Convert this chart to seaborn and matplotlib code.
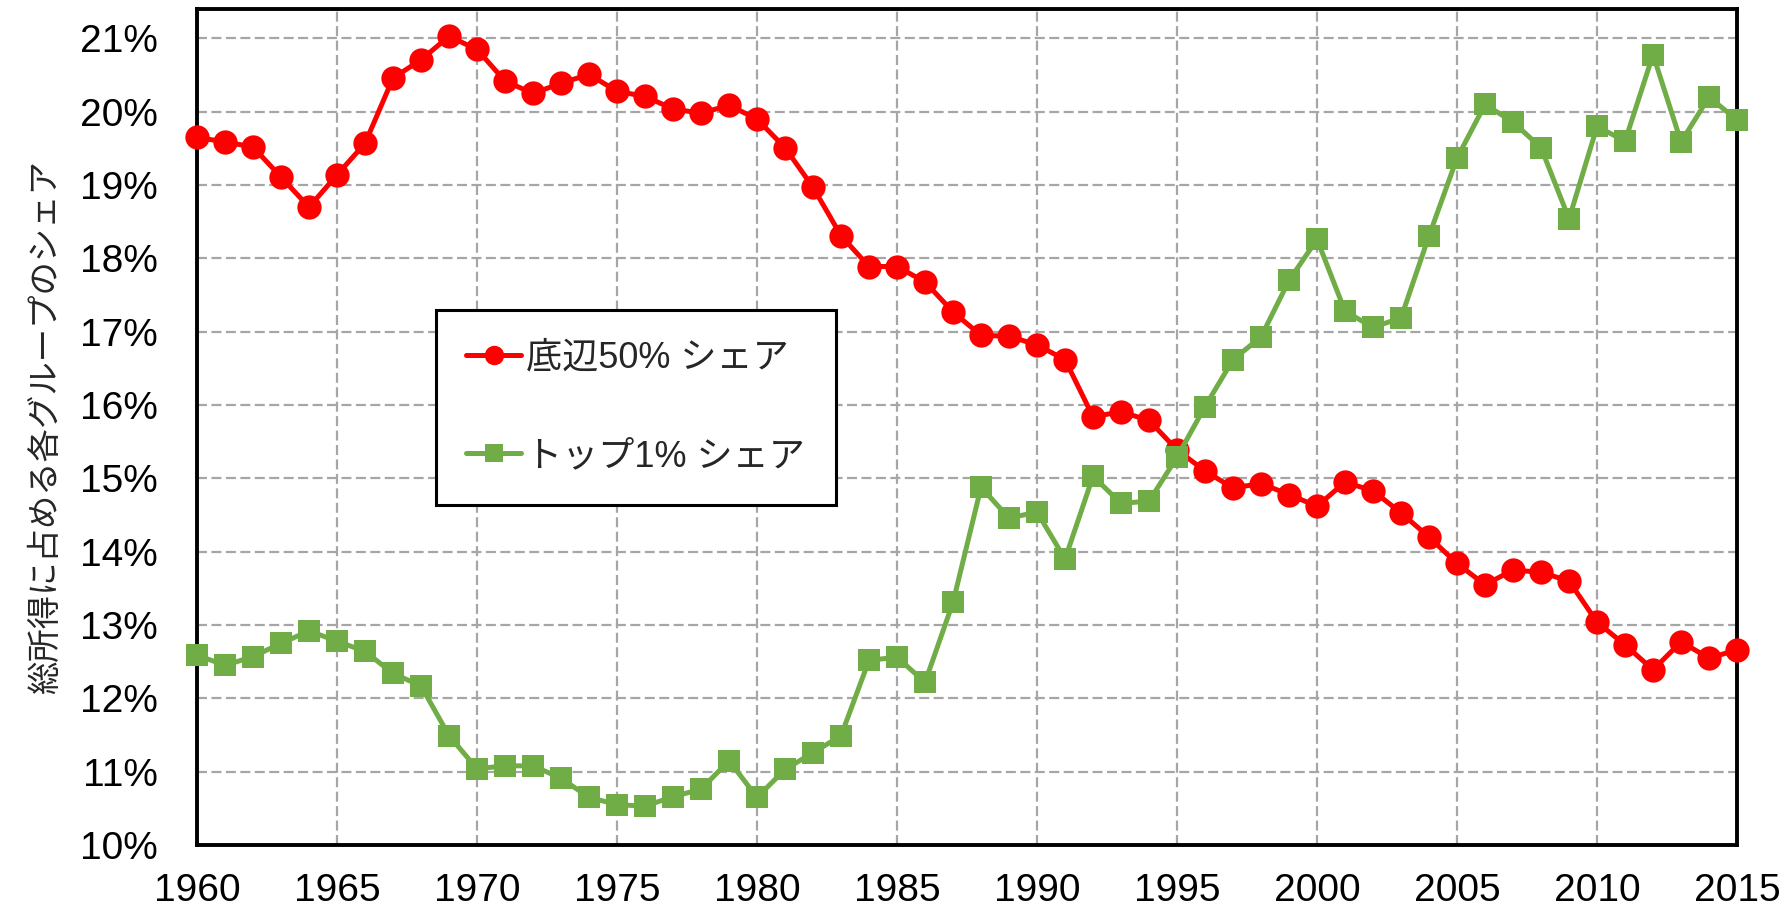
import matplotlib

matplotlib.use("Agg")

import matplotlib.pyplot as plt
import pandas as pd
import seaborn as sns
from matplotlib.ticker import FuncFormatter, MultipleLocator


YEARS = list(range(1960, 2016))
BOTTOM_50 = [
    19.65, 19.59, 19.52, 19.11, 18.70, 19.14, 19.57, 20.46, 20.71, 21.03,
    20.85, 20.42, 20.25, 20.39, 20.51, 20.28, 20.21, 20.04, 19.98, 20.09,
    19.90, 19.51, 18.97, 18.31, 17.89, 17.89, 17.68, 17.27, 16.95, 16.94,
    16.82, 16.62, 15.84, 15.91, 15.79, 15.39, 15.10, 14.87, 14.93, 14.78,
    14.62, 14.95, 14.83, 14.53, 14.20, 13.84, 13.55, 13.75, 13.72, 13.60,
    13.04, 12.73, 12.39, 12.77, 12.55, 12.66,
]
TOP_1 = [
    12.59, 12.45, 12.57, 12.75, 12.92, 12.78, 12.64, 12.34, 12.17, 11.49,
    11.04, 11.08, 11.08, 10.91, 10.65, 10.55, 10.53, 10.66, 10.76, 11.15,
    10.65, 11.03, 11.26, 11.49, 12.52, 12.56, 12.22, 13.31, 14.88, 14.46,
    14.54, 13.90, 15.03, 14.66, 14.69, 15.29, 15.98, 16.62, 16.93, 17.70,
    18.26, 17.28, 17.06, 17.19, 18.31, 19.37, 20.10, 19.86, 19.51, 18.54,
    19.80, 19.60, 20.78, 19.59, 20.20, 19.89,
]
LABEL_BOTTOM = "底辺50% シェア"
LABEL_TOP = "トップ1% シェア"
Y_LABEL = "総所得に占める各グループのシェア"

RED = "#ff0000"
GREEN = "#70ad47"


def main():
    sns.set_theme(style="white")
    plt.rcParams["font.family"] = ["Liberation Sans", "Noto Sans CJK JP", "DejaVu Sans"]

    df = pd.DataFrame({"year": YEARS, "bottom": BOTTOM_50, "top": TOP_1})

    fig, ax = plt.subplots(figsize=(17.88, 9.16), dpi=100)
    fig.subplots_adjust(left=0.1102, right=0.9715, bottom=0.0775, top=0.990)

    sns.lineplot(
        data=df, x="year", y="bottom", ax=ax, color=RED, linewidth=3.6,
        marker="o", markersize=17.5, markeredgewidth=0, label=LABEL_BOTTOM,
        clip_on=False, zorder=3,
    )
    sns.lineplot(
        data=df, x="year", y="top", ax=ax, color=GREEN, linewidth=3.6,
        marker="s", markersize=15.5, markeredgewidth=0, label=LABEL_TOP,
        clip_on=False, zorder=4,
    )

    ax.set_xlim(1960, 2015)
    ax.set_ylim(10, 21.4)
    ax.xaxis.set_major_locator(MultipleLocator(5))
    ax.yaxis.set_major_locator(MultipleLocator(1))
    ax.yaxis.set_major_formatter(FuncFormatter(lambda v, _: f"{v:.0f}%"))

    ax.grid(True, color="#a6a6a6", linestyle=(0, (4.5, 2)), linewidth=1.6)
    ax.set_axisbelow(True)
    for spine in ax.spines.values():
        spine.set_color("black")
        spine.set_linewidth(2.8)

    ax.tick_params(axis="x", length=0, pad=20, labelsize=28, colors="black")
    ax.tick_params(axis="y", length=0, pad=28, labelsize=28, colors="black")
    ax.set_xlabel("")
    ax.set_ylabel(Y_LABEL, fontsize=24, family=["Noto Sans CJK JP"], labelpad=12)

    leg = ax.legend(
        loc="upper left", bbox_to_anchor=(0.155, 0.640), fontsize=26,
        frameon=True, fancybox=False, edgecolor="black", framealpha=1,
        borderpad=0.85, labelspacing=1.75, handlelength=1.5, handletextpad=0.15,
        markerscale=0.8, borderaxespad=0,
    )
    leg.get_frame().set_linewidth(2.2)

    fig.savefig("out.png", dpi=100)
    plt.close(fig)


if __name__ == "__main__":
    main()
